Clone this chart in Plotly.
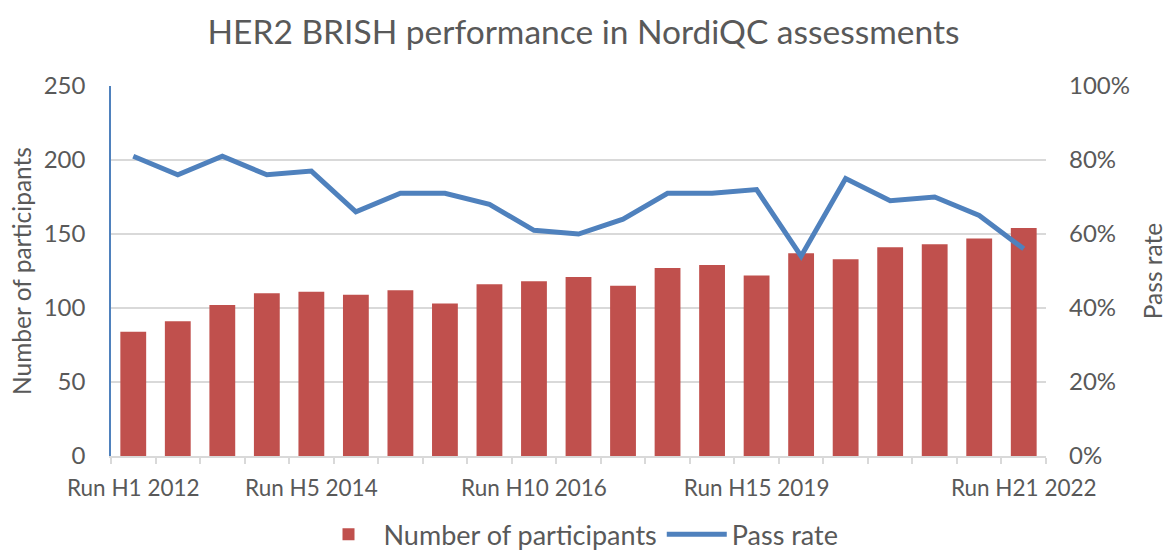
import plotly.graph_objects as go

runs = list(range(1, 22))
tick_positions = [0, 4, 9, 14, 20]
tick_labels = ["Run H1 2012", "Run H5 2014", "Run H10 2016", "Run H15 2019", "Run H21 2022"]
participants = [84, 91, 102, 110, 111, 109, 112, 103, 116, 118, 121, 115, 127, 129, 122, 137, 133, 141, 143, 147, 154]
pass_rate = [0.81, 0.76, 0.81, 0.76, 0.77, 0.66, 0.71, 0.71, 0.68, 0.61, 0.60, 0.64, 0.71, 0.71, 0.72, 0.54, 0.75, 0.69, 0.70, 0.65, 0.56]

x = list(range(len(runs)))
FONT = "Lato"
GRAY = "#595959"

fig = go.Figure()
fig.add_trace(go.Bar(x=x, y=participants, name="Number of participants",
                     marker=dict(color="#C0504D", line=dict(width=0)), yaxis="y"))
fig.add_trace(go.Scatter(x=x, y=pass_rate, name="Pass rate", mode="lines",
                         line=dict(color="#4F81BD", width=5), yaxis="y2"))

fig.update_layout(
    width=1167, height=554,
    margin=dict(l=111, r=121, t=86, b=98, autoexpand=False),
    paper_bgcolor="white", plot_bgcolor="white",
    font=dict(family=FONT, color=GRAY),
    title=dict(text="HER2 BRISH performance in NordiQC assessments", x=0.5, xref="container",
               xanchor="center", y=0.942, yref="container", yanchor="middle",
               font=dict(size=33.5, color=GRAY, family=FONT)),
    bargap=0.42,
    showlegend=True,
    legend=dict(orientation="h", x=0.5, xanchor="center", y=0.035, yref="container", yanchor="middle",
                font=dict(size=27, color=GRAY), itemwidth=60, tracegroupgap=0),
    xaxis=dict(range=[-0.5, 20.5], tickmode="array", tickvals=tick_positions, ticktext=tick_labels,
               ticks="", showgrid=False, showline=True, linecolor="#D9D9D9", linewidth=1.5,
               tickfont=dict(size=22.5, color=GRAY), ticklabelstandoff=11, zeroline=False,
               automargin=False,
               minor=dict(ticks="outside", tickmode="array",
                          tickvals=[i - 0.5 for i in range(len(runs) + 1)],
                          ticklen=6, tickcolor="#D9D9D9", tickwidth=1.5, showgrid=False)),
    yaxis=dict(range=[0, 250], dtick=50, showgrid=True, gridcolor="#D9D9D9", gridwidth=1.5,
               showline=True, linecolor="#4F81BD", linewidth=1.5, zeroline=False,
               tickfont=dict(size=24, color=GRAY), ticklabelstandoff=19, automargin=False,
               title=dict(text="Number of participants", font=dict(size=24.5, color=GRAY), standoff=5)),
    yaxis2=dict(range=[0, 1], dtick=0.2, tickformat=".0%", overlaying="y", side="right",
                showgrid=False, showline=False, zeroline=False, automargin=False,
                tickfont=dict(size=24, color=GRAY), ticklabelstandoff=22,
                title=dict(text="Pass rate", font=dict(size=24.5, color=GRAY), standoff=18)),
)

fig.write_html("out.html", config={"displayModeBar": False},
               post_script="document.body.style.margin='0';document.body.style.overflow='hidden';")
